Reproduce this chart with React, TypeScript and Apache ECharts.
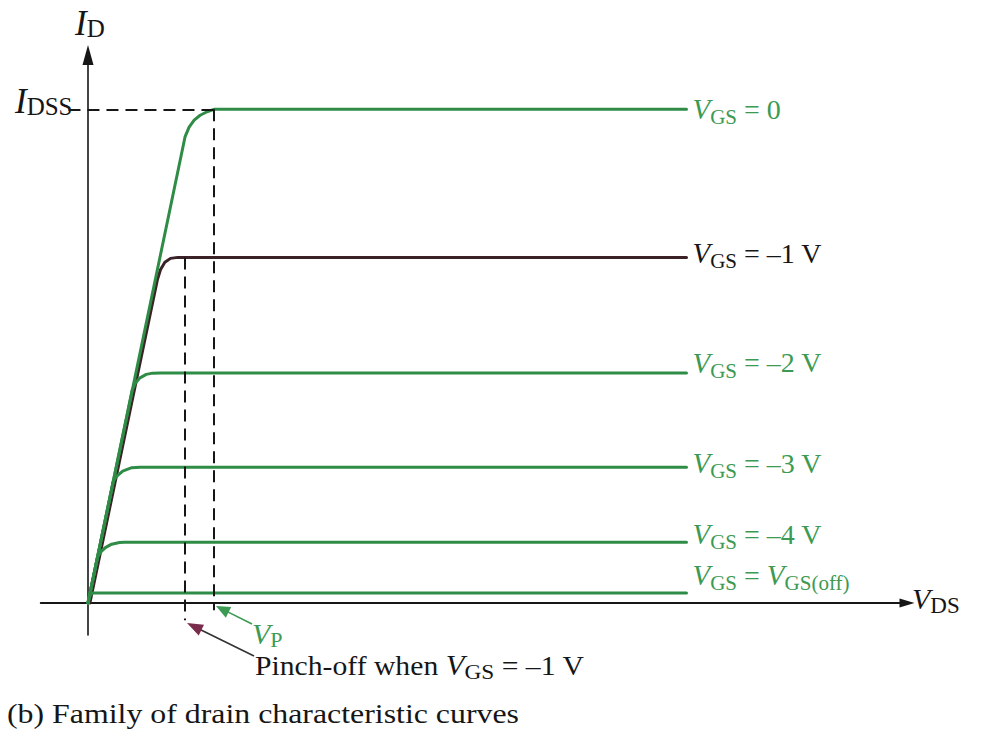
import React, { useEffect, useRef } from 'react';
import * as echarts from 'echarts';

const SERIF = '"Liberation Serif", "DejaVu Serif", "Times New Roman", serif';
const GREEN = '#2f8c46';
const GREEN_TEXT = '#3c9a52';
const DARK = '#3a2226';
const INK = '#161616';
const MAROON = '#7a2c4c';

// Drain characteristic curves: [V_DS, I_D] pairs
const vgs0 = [[0, 0], [3.08, 9.44], [3.21, 9.64], [3.37, 9.78], [3.56, 9.88], [3.78, 9.95], [4.0, 10], [19, 10]];
const vgsMinus1 = [[0.06, 0], [2.2, 6.54], [2.3, 6.75], [2.44, 6.9], [2.62, 6.98], [2.85, 7.0], [3.08, 7.0], [19, 7.0]];
const vgsMinus2 = [[0, 0], [1.4, 4.3], [1.5, 4.45], [1.65, 4.56], [1.85, 4.63], [2.05, 4.655], [2.3, 4.66], [19, 4.66]];
const vgsMinus3 = [[0, 0], [0.8, 2.46], [0.9, 2.56], [1.1, 2.67], [1.39, 2.74], [1.65, 2.75], [19, 2.75]];
const vgsMinus4 = [[0, 0], [0.3, 0.92], [0.4, 1.03], [0.55, 1.12], [0.75, 1.19], [1.0, 1.225], [1.15, 1.23], [19, 1.23]];
const vgsOff = [[0, 0], [0.06, 0.14], [0.14, 0.2], [19, 0.2]];

// Gate-source voltage of each curve, as printed at its end
const vgsText = ['0', '–1 V', '–2 V', '–3 V', '–4 V', null];

// Reference levels
const IDSS = 10;       // saturation current at V_GS = 0
const VP = 4.0;        // pinch-off voltage
const VPINCH_1 = 3.08; // pinch-off point for V_GS = -1 V
const ID_1 = 7.0;      // saturation current at V_GS = -1 V

// Axis ranges (both axes cross at the origin)
const X_MIN = -1.5;
const X_MAX = 26;
const Y_MIN = -0.65;
const Y_MAX = 11.1;

const W = 982;
const H = 743;

const labelRich = (color: string) => ({
  v: { fontFamily: SERIF, fontStyle: 'italic', fontSize: 29, color },
  s: { fontFamily: SERIF, fontSize: 21, color, padding: [16, 0, 0, 0] },
  t: { fontFamily: SERIF, fontSize: 28, color },
});

function curveSeries(name: string, data: number[][], color: string, textColor: string, text: string | null, lift: number, z: number) {
  const formatter = text === null
    ? '{v|V}{s|GS}{t| = }{v|V}{s|GS(off)}'
    : `{v|V}{s|GS}{t| = ${text}}`;
  return {
    name,
    type: 'line',
    data,
    showSymbol: false,
    symbol: 'none',
    z,
    lineStyle: { color, width: 3, cap: 'round', join: 'round' },
    endLabel: {
      show: true,
      distance: 6,
      formatter: () => formatter,
      rich: labelRich(textColor),
      padding: lift >= 0 ? [0, 0, lift * 2, 0] : [-lift * 2, 0, 0, 0],
    },
    emphasis: { disabled: true },
  };
}

function arrow(from: number[], tip: number[], lineColor: string, headColor: string, len: number, halfW: number) {
  const dx = tip[0] - from[0];
  const dy = tip[1] - from[1];
  const d = Math.hypot(dx, dy);
  const ux = dx / d;
  const uy = dy / d;
  const bx = tip[0] - ux * len;
  const by = tip[1] - uy * len;
  return [
    {
      type: 'line',
      shape: { x1: from[0], y1: from[1], x2: bx + ux * 2, y2: by + uy * 2 },
      style: { stroke: lineColor, lineWidth: 1.6 },
      silent: true,
    },
    {
      type: 'polygon',
      shape: { points: [[tip[0], tip[1]], [bx - uy * halfW, by + ux * halfW], [bx + uy * halfW, by - ux * halfW]] },
      style: { fill: headColor },
      silent: true,
    },
  ];
}

export default function App() {
  const ref = useRef<HTMLDivElement>(null);

  useEffect(() => {
    if (!ref.current) return;
    const chart = echarts.init(ref.current, null, { renderer: 'svg' });

    const axisCommon = {
      type: 'value',
      axisTick: { show: false },
      axisLabel: { show: false },
      splitLine: { show: false },
    };

    const option = {
      animation: false,
      backgroundColor: '#ffffff',
      grid: { left: 40.75, right: 75, top: 55, bottom: 108 },
      xAxis: {
        ...axisCommon,
        min: X_MIN,
        max: X_MAX,
        axisLine: {
          onZero: true,
          symbol: ['none', 'triangle'],
          symbolSize: [9, 15],
          lineStyle: { color: INK, width: 2 },
        },
      },
      yAxis: {
        ...axisCommon,
        min: Y_MIN,
        max: Y_MAX,
        axisLine: {
          onZero: true,
          symbol: ['none', 'triangle'],
          symbolSize: [11, 20],
          lineStyle: { color: INK, width: 1.6 },
        },
      },
      series: [
        curveSeries('VGS -1 V', vgsMinus1, DARK, INK, vgsText[1], 4, 2),
        curveSeries('VGS 0', vgs0, GREEN, GREEN_TEXT, vgsText[0], 0, 3),
        curveSeries('VGS -2 V', vgsMinus2, GREEN, GREEN_TEXT, vgsText[2], 10, 3),
        curveSeries('VGS -3 V', vgsMinus3, GREEN, GREEN_TEXT, vgsText[3], 4, 3),
        curveSeries('VGS -4 V', vgsMinus4, GREEN, GREEN_TEXT, vgsText[4], 8, 3),
        curveSeries('VGS off', vgsOff, GREEN, GREEN_TEXT, vgsText[5], 18, 3),
        {
          name: 'guides',
          type: 'line',
          data: [],
          z: 4,
          markLine: {
            silent: true,
            symbol: ['none', 'none'],
            label: { show: false },
            lineStyle: { color: INK, width: 2, type: [12, 7] },
            emphasis: { disabled: true },
            data: [
              [{ coord: [-0.62, IDSS] }, { coord: [VP, IDSS] }],
              [{ coord: [VP, IDSS] }, { coord: [VP, -0.15] }],
              [{ coord: [VPINCH_1, ID_1] }, { coord: [VPINCH_1, -0.35] }],
            ],
          },
        },
      ],
      graphic: [
        {
          type: 'text', x: 75, y: 6,
          style: {
            text: '{i|I}{d|D}',
            rich: {
              i: { fontFamily: SERIF, fontStyle: 'italic', fontSize: 35, fill: INK, verticalAlign: 'bottom' },
              d: { fontFamily: SERIF, fontSize: 25, fill: INK, verticalAlign: 'bottom' },
            },
          },
        },
        {
          type: 'text', x: 15, y: 84,
          style: {
            text: '{i|I}{d|DSS}',
            rich: {
              i: { fontFamily: SERIF, fontStyle: 'italic', fontSize: 35, fill: INK, verticalAlign: 'bottom' },
              d: { fontFamily: SERIF, fontSize: 25, fill: INK, verticalAlign: 'bottom' },
            },
          },
        },
        {
          type: 'text', x: 912, y: 580,
          style: {
            text: '{v|V}{d|DS}',
            rich: {
              v: { fontFamily: SERIF, fontStyle: 'italic', fontSize: 30, fill: INK },
              d: { fontFamily: SERIF, fontSize: 23, fill: INK, padding: [14, 0, 0, 0] },
            },
          },
        },
        {
          type: 'text', x: 252, y: 616,
          style: {
            text: '{v|V}{d|P}',
            rich: {
              v: { fontFamily: SERIF, fontStyle: 'italic', fontSize: 30, fill: GREEN_TEXT },
              d: { fontFamily: SERIF, fontSize: 22, fill: GREEN_TEXT, padding: [12, 0, 0, 0] },
            },
          },
        },
        {
          type: 'text', x: 255, y: 647, scaleX: 1.06,
          style: {
            text: '{t|Pinch-off when }{v|V}{d|GS}{t| = –1 V}',
            rich: {
              t: { fontFamily: SERIF, fontSize: 28, fill: INK },
              v: { fontFamily: SERIF, fontStyle: 'italic', fontSize: 29, fill: INK },
              d: { fontFamily: SERIF, fontSize: 22, fill: INK, padding: [14, 0, 0, 0] },
            },
          },
        },
        {
          type: 'text', x: 7, y: 700, scaleX: 1.18,
          style: {
            text: '(b) Family of drain characteristic curves',
            fontFamily: SERIF,
            fontSize: 27,
            fill: INK,
          },
        },
        ...arrow([254, 656], [187, 623], '#333333', MAROON, 16, 6),
        ...arrow([252, 624], [216, 606], GREEN_TEXT, GREEN_TEXT, 14, 6),
      ],
    };

    chart.setOption(option as any);
    return () => chart.dispose();
  }, []);

  return (
    <div
      ref={ref}
      style={{ position: 'fixed', left: 0, top: 0, width: W, height: H, background: '#ffffff' }}
    />
  );
}
